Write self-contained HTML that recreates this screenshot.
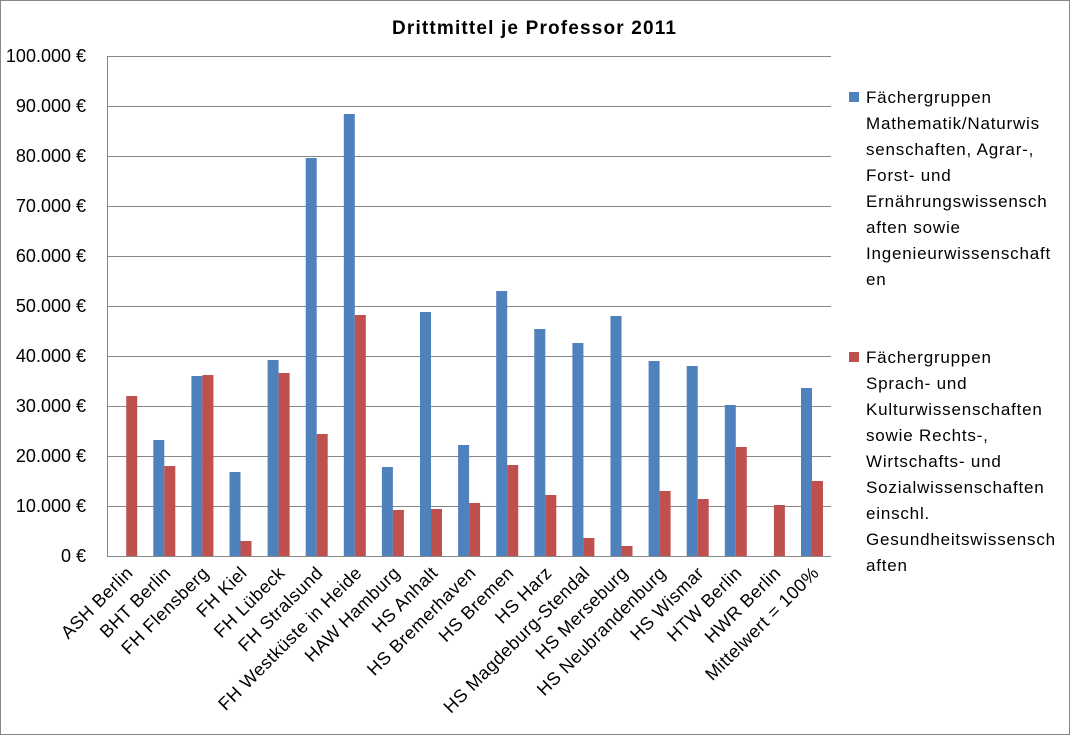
<!DOCTYPE html>
<html><head><meta charset="utf-8"><style>
html,body{margin:0;padding:0;background:#fff}
svg{display:block;font-family:"Liberation Sans",sans-serif}
</style></head><body>
<svg width="1071" height="736" viewBox="0 0 1071 736" xmlns="http://www.w3.org/2000/svg">
<rect x="0.5" y="0.5" width="1069" height="734" fill="#fff" stroke="#888"/>
<text x="392" y="34" textLength="284" lengthAdjust="spacing" font-size="19" font-weight="bold" fill="#000">Drittmittel je Professor 2011</text>
<g stroke="#878787" stroke-width="1">
<line x1="107" y1="56.5" x2="831" y2="56.5"/>
<line x1="107" y1="106.5" x2="831" y2="106.5"/>
<line x1="107" y1="156.5" x2="831" y2="156.5"/>
<line x1="107" y1="206.5" x2="831" y2="206.5"/>
<line x1="107" y1="256.5" x2="831" y2="256.5"/>
<line x1="107" y1="306.5" x2="831" y2="306.5"/>
<line x1="107" y1="356.5" x2="831" y2="356.5"/>
<line x1="107" y1="406.5" x2="831" y2="406.5"/>
<line x1="107" y1="456.5" x2="831" y2="456.5"/>
<line x1="107" y1="506.5" x2="831" y2="506.5"/>
<line x1="107" y1="556.5" x2="831" y2="556.5"/>
<line x1="107.5" y1="56" x2="107.5" y2="556"/>
</g>
<g font-size="18" text-anchor="end" fill="#000">
<text x="86" y="62">100.000 €</text>
<text x="86" y="112">90.000 €</text>
<text x="86" y="162">80.000 €</text>
<text x="86" y="212">70.000 €</text>
<text x="86" y="262">60.000 €</text>
<text x="86" y="312">50.000 €</text>
<text x="86" y="362">40.000 €</text>
<text x="86" y="412">30.000 €</text>
<text x="86" y="462">20.000 €</text>
<text x="86" y="512">10.000 €</text>
<text x="86" y="562">0 €</text>
</g>
<g fill="#4f81bd">
<rect x="153.3" y="440" width="11" height="116"/>
<rect x="191.4" y="376" width="11" height="180"/>
<rect x="229.5" y="472" width="11" height="84"/>
<rect x="267.6" y="360" width="11" height="196"/>
<rect x="305.7" y="158" width="11" height="398"/>
<rect x="343.8" y="114" width="11" height="442"/>
<rect x="381.9" y="467" width="11" height="89"/>
<rect x="420" y="312" width="11" height="244"/>
<rect x="458.1" y="445" width="11" height="111"/>
<rect x="496.2" y="291" width="11" height="265"/>
<rect x="534.3" y="329" width="11" height="227"/>
<rect x="572.4" y="343" width="11" height="213"/>
<rect x="610.5" y="316" width="11" height="240"/>
<rect x="648.6" y="361" width="11" height="195"/>
<rect x="686.7" y="366" width="11" height="190"/>
<rect x="724.8" y="405" width="11" height="151"/>
<rect x="801" y="388" width="11" height="168"/>
</g>
<g fill="#c0504d">
<rect x="126.2" y="396" width="11" height="160"/>
<rect x="164.3" y="466" width="11" height="90"/>
<rect x="202.4" y="375" width="11" height="181"/>
<rect x="240.5" y="541" width="11" height="15"/>
<rect x="278.6" y="373" width="11" height="183"/>
<rect x="316.7" y="434" width="11" height="122"/>
<rect x="354.8" y="315" width="11" height="241"/>
<rect x="392.9" y="510" width="11" height="46"/>
<rect x="431" y="509" width="11" height="47"/>
<rect x="469.1" y="503" width="11" height="53"/>
<rect x="507.2" y="465" width="11" height="91"/>
<rect x="545.3" y="495" width="11" height="61"/>
<rect x="583.4" y="538" width="11" height="18"/>
<rect x="621.5" y="546" width="11" height="10"/>
<rect x="659.6" y="491" width="11" height="65"/>
<rect x="697.7" y="499" width="11" height="57"/>
<rect x="735.8" y="447" width="11" height="109"/>
<rect x="773.9" y="505" width="11" height="51"/>
<rect x="812" y="481" width="11" height="75"/>
</g>
<g font-size="18" letter-spacing="0.5" text-anchor="end" fill="#000">
<text transform="translate(134,574) rotate(-45)">ASH Berlin</text>
<text transform="translate(172,574) rotate(-45)">BHT Berlin</text>
<text transform="translate(210,574) rotate(-45)">FH Flensberg</text>
<text transform="translate(248,574) rotate(-45)">FH Kiel</text>
<text transform="translate(286,574) rotate(-45)">FH Lübeck</text>
<text transform="translate(324,574) rotate(-45)">FH Stralsund</text>
<text transform="translate(363,574) rotate(-45)">FH Westküste in Heide</text>
<text transform="translate(401,574) rotate(-45)">HAW Hamburg</text>
<text transform="translate(439,574) rotate(-45)">HS Anhalt</text>
<text transform="translate(477,574) rotate(-45)">HS Bremerhaven</text>
<text transform="translate(515,574) rotate(-45)">HS Bremen</text>
<text transform="translate(553,574) rotate(-45)">HS Harz</text>
<text transform="translate(591,574) rotate(-45)">HS Magdeburg-Stendal</text>
<text transform="translate(629,574) rotate(-45)">HS Merseburg</text>
<text transform="translate(667,574) rotate(-45)">HS Neubrandenburg</text>
<text transform="translate(705,574) rotate(-45)">HS Wismar</text>
<text transform="translate(743,574) rotate(-45)">HTW Berlin</text>
<text transform="translate(782,574) rotate(-45)">HWR Berlin</text>
<text transform="translate(820,574) rotate(-45)">Mittelwert = 100%</text>
</g>
<rect x="849" y="92" width="10" height="10" fill="#4f81bd"/>
<rect x="849" y="352" width="10" height="10" fill="#c0504d"/>
<g font-size="17" letter-spacing="0.8" fill="#000">
<text x="866" y="103">Fächergruppen</text>
<text x="866" y="129">Mathematik/Naturwis</text>
<text x="866" y="155">senschaften, Agrar-,</text>
<text x="866" y="181">Forst- und</text>
<text x="866" y="207">Ernährungswissensch</text>
<text x="866" y="233">aften sowie</text>
<text x="866" y="259">Ingenieurwissenschaft</text>
<text x="866" y="285">en</text>
<text x="866" y="363">Fächergruppen</text>
<text x="866" y="389">Sprach- und</text>
<text x="866" y="415">Kulturwissenschaften</text>
<text x="866" y="441">sowie Rechts-,</text>
<text x="866" y="467">Wirtschafts- und</text>
<text x="866" y="493">Sozialwissenschaften</text>
<text x="866" y="519">einschl.</text>
<text x="866" y="545">Gesundheitswissensch</text>
<text x="866" y="571">aften</text>
</g>
</svg>
</body></html>
